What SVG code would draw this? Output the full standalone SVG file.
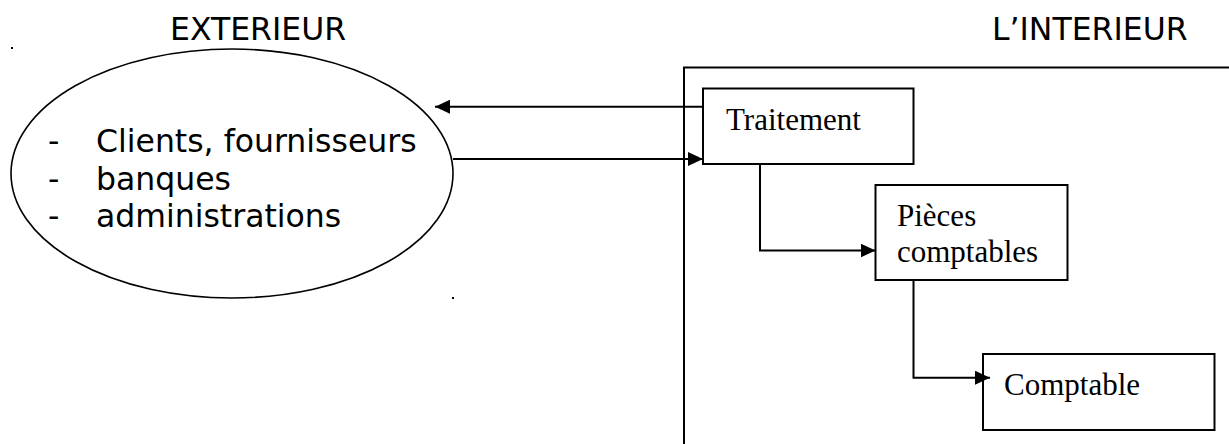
<svg xmlns="http://www.w3.org/2000/svg" width="1229" height="444" viewBox="0 0 1229 444">
<defs>
<style>
.sans{font-family:"DejaVu Sans",Verdana,sans-serif;font-size:31.5px;fill:#000}
.serif{font-family:"Liberation Serif","Times New Roman",serif;font-size:31px;fill:#000}
.box{fill:#fff;stroke:#000;stroke-width:2}
.conn{fill:none;stroke:#000;stroke-width:2}
</style>
<marker id="arr" markerUnits="userSpaceOnUse" markerWidth="16" markerHeight="14" refX="15" refY="7" orient="auto">
<path d="M0,0 L15,7 L0,14 z" fill="#000"/>
</marker>
</defs>
<rect width="1229" height="444" fill="#fff"/>
<g id="titles">
<text class="sans" x="170" y="40">EXTERIEUR</text>
<text class="sans" x="992" y="40">L’INTERIEUR</text>
</g>
<g id="marks">
<rect x="11" y="47" width="2" height="2" fill="#000"/>
<rect x="452" y="297" width="2" height="2" fill="#000"/>
</g>
<g id="interieur">
<path class="conn" d="M684 444 V67.5 H1229"/>
</g>
<g id="exterieur">
<ellipse cx="232" cy="173.5" rx="221" ry="124.5" fill="#fff" stroke="#000" stroke-width="1.6"/>
<text class="sans" x="48" y="152">-</text>
<text class="sans" x="96" y="152">Clients, fournisseurs</text>
<text class="sans" x="48" y="189.5">-</text>
<text class="sans" x="96" y="189.5">banques</text>
<text class="sans" x="48" y="227">-</text>
<text class="sans" x="96" y="227">administrations</text>
</g>
<g id="traitement">
<rect class="box" x="703" y="88.5" width="210.5" height="75.5"/>
<text class="serif" x="726" y="129.5">Traitement</text>
</g>
<g id="pieces">
<rect class="box" x="875.5" y="185" width="192" height="95"/>
<text class="serif" x="897" y="226">Pièces</text>
<text class="serif" x="897" y="261.5">comptables</text>
</g>
<g id="comptable">
<rect class="box" x="983" y="354" width="231.5" height="76"/>
<text class="serif" x="1004" y="395">Comptable</text>
</g>
<g id="connectors">
<path class="conn" d="M703 106.7 H435" marker-end="url(#arr)"/>
<path class="conn" d="M453 159 H703" marker-end="url(#arr)"/>
<path class="conn" d="M760 164 V250.5 H875.5" marker-end="url(#arr)"/>
<path class="conn" d="M913.5 280 V377.7 H990" marker-end="url(#arr)"/>
</g>
</svg>
